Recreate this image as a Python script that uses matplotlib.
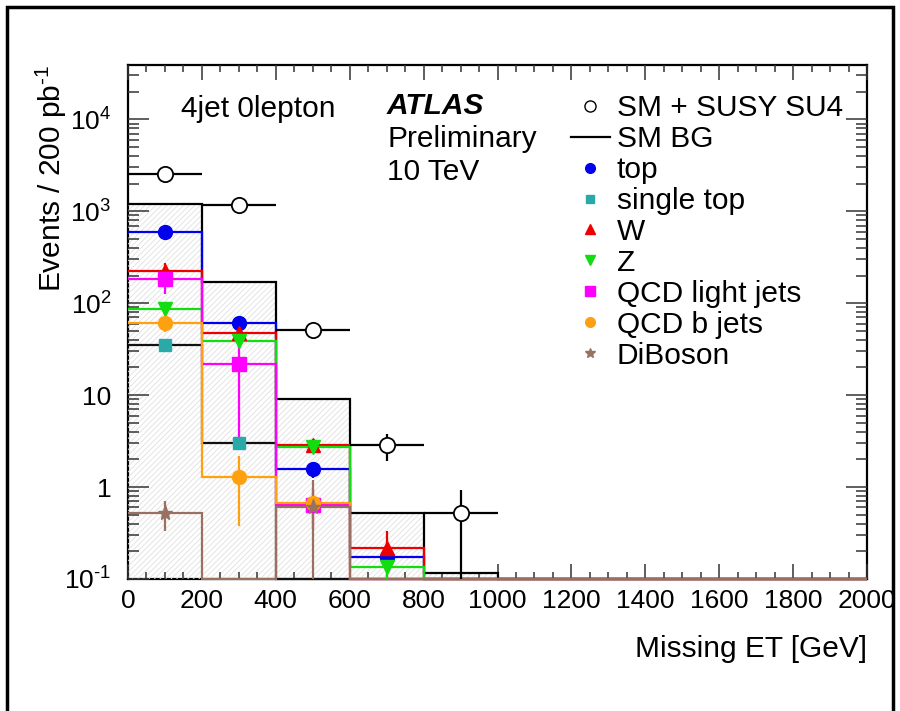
import matplotlib
matplotlib.use("Agg")
import matplotlib.pyplot as plt
import numpy as np
from matplotlib.lines import Line2D
from matplotlib.patches import Rectangle
from matplotlib.ticker import FixedLocator, LogLocator, MultipleLocator, NullFormatter

plt.rcParams["font.family"] = ["Liberation Sans", "DejaVu Sans"]
plt.rcParams["mathtext.fontset"] = "custom"
plt.rcParams["mathtext.rm"] = "Liberation Sans"
plt.rcParams["mathtext.it"] = "Liberation Sans:italic"
plt.rcParams["hatch.linewidth"] = 0.6

# Missing ET binning [GeV]
bin_edges = np.arange(0, 2001, 200)
bin_centers = 0.5 * (bin_edges[:-1] + bin_edges[1:])

# Events / 200 pb^-1 per bin
sm_bg = [1190, 169, 9.05, 0.52, 0.116, 0, 0, 0, 0, 0]
su4 = [2520, 1160, 50.9, 2.86, 0.52, 0, 0, 0, 0, 0]
su4_err = [150, 90, 6, 0.95, 0.42, 0, 0, 0, 0, 0]

top = [591, 60.6, 1.57, 0.175, 0, 0, 0, 0, 0, 0]
top_err = [25, 8, 0.3, 0.05, 0, 0, 0, 0, 0, 0]
single_top = [34.9, 3.0, 0, 0, 0, 0, 0, 0, 0, 0]
single_top_err = [5, 0.5, 0, 0, 0, 0, 0, 0, 0, 0]
w_jets = [225, 47.2, 2.86, 0.215, 0, 0, 0, 0, 0, 0]
w_jets_err = [50, 6, 0.5, 0.12, 0, 0, 0, 0, 0, 0]
z_jets = [86, 38.6, 2.7, 0.135, 0, 0, 0, 0, 0, 0]
z_jets_err = [10, 5, 0.3, 0.05, 0, 0, 0, 0, 0, 0]
qcd_light = [182, 21.7, 0.64, 0, 0, 0, 0, 0, 0, 0]
qcd_light_err = [55, 18.5, 0.3, 0, 0, 0, 0, 0, 0, 0]
qcd_b = [60.6, 1.28, 0.67, 0, 0, 0, 0, 0, 0, 0]
qcd_b_err = [12, 0.9, 0.3, 0, 0, 0, 0, 0, 0, 0]
diboson = [0.52, 0, 0.6, 0, 0, 0, 0, 0, 0, 0]
diboson_err = [0.19, 0, 0.59, 0, 0, 0, 0, 0, 0, 0]

y_min, y_max = 0.1, 3.9e4
y_ticks = [0.1, 1, 10, 100, 1e3, 1e4]
y_tick_labels = [r"$10^{\text{-}1}$", "1", "10", r"$10^{2}$", r"$10^{3}$", r"$10^{4}$"]

# (values, errors, label, colour, line colour, marker, marker size)
components = [
    (top, top_err, "top", "#0000ee", "#0000ee", "o", 10),
    (single_top, single_top_err, "single top", "#2aa9a9", "#111111", "s", 9),
    (w_jets, w_jets_err, "W", "#ee0000", "#ee0000", "^", 10.5),
    (z_jets, z_jets_err, "Z", "#11dd11", "#11dd11", "v", 10.5),
    (qcd_light, qcd_light_err, "QCD light jets", "#ff00ff", "#ff00ff", "s", 10),
    (qcd_b, qcd_b_err, "QCD b jets", "#ffa010", "#ffa010", "o", 10),
    (diboson, diboson_err, "DiBoson", "#9a7060", "#9a7060", "*", 11),
]

fs_text = 21.5
fs_tick = 19

fig = plt.figure(figsize=(9.0, 7.11), dpi=100)
ax = fig.add_axes([128 / 900, 1 - 579 / 711, 739 / 900, 514 / 711])
ax.set_yscale("log")

# SM background: hatched area plus black outline
bg = np.maximum(np.array(sm_bg, dtype=float), y_min)
ax.stairs(bg, bin_edges, baseline=y_min, fill=True, facecolor="none",
          edgecolor="#e0e0e0", hatch="//////", linewidth=0, zorder=1)
ax.stairs(bg, bin_edges, baseline=None, color="black", lw=1.6, zorder=2,
          clip_on=False)

for vals, errs, label, color, lcolor, marker, ms in components:
    vals = np.array(vals, dtype=float)
    errs = np.array(errs, dtype=float)
    ax.stairs(np.maximum(vals, y_min), bin_edges, baseline=None, color=lcolor,
              lw=1.6, zorder=3, clip_on=False)
    mask = vals > 0
    ax.errorbar(bin_centers[mask], vals[mask], yerr=errs[mask], fmt=marker,
                color=color, ms=ms, mec=color, elinewidth=1.6, capsize=0,
                zorder=4)

su4 = np.array(su4, dtype=float)
su4_err = np.array(su4_err, dtype=float)
mask = su4 > 0
ax.errorbar(bin_centers[mask], su4[mask], xerr=100, yerr=su4_err[mask],
            fmt="o", ms=11, mfc="white", mec="black", mew=1.3, color="black",
            elinewidth=1.6, capsize=0, zorder=5)

ax.set_xlim(0, 2000)
ax.set_ylim(y_min, y_max)

ax.xaxis.set_major_locator(MultipleLocator(200))
ax.xaxis.set_minor_locator(MultipleLocator(50))
ax.yaxis.set_major_locator(FixedLocator(y_ticks))
ax.yaxis.set_minor_locator(LogLocator(base=10, subs=np.arange(2, 10)))
ax.yaxis.set_minor_formatter(NullFormatter())
ax.set_yticklabels(y_tick_labels)
ax.tick_params(axis="both", which="both", direction="in", top=True, right=True,
               labelsize=fs_tick, width=1.1, color="#333333")
ax.tick_params(axis="x", which="major", length=11, pad=7)
ax.tick_params(axis="x", which="minor", length=5)
ax.tick_params(axis="y", which="major", length=15, pad=12)
ax.tick_params(axis="y", which="minor", length=8)
for sp in ax.spines.values():
    sp.set_linewidth(1.6)
    sp.set_zorder(0.5)

ax.set_xlabel("Missing ET [GeV]", fontsize=fs_text, loc="right", labelpad=16)
ax.set_ylabel(r"Events / 200 pb$^{\text{-}1}$", fontsize=fs_text, loc="top")
ax.yaxis.set_label_coords(-0.08, 1.0)

fig.text(181 / 900, 1 - 109 / 711, "4jet 0lepton", fontsize=fs_text, va="center")
fig.text(387 / 900, 1 - 106 / 711, "ATLAS", fontsize=fs_text, va="center",
         fontweight="bold", style="italic")
fig.text(387 / 900, 1 - 139 / 711, "Preliminary", fontsize=fs_text, va="center")
fig.text(387 / 900, 1 - 172 / 711, "10 TeV", fontsize=fs_text, va="center")

handles = [
    Line2D([], [], ls="none", marker="o", ms=8, mfc="white", mec="black", mew=1),
    Line2D([], [], color="black", lw=1.6),
]
labels = ["SM + SUSY SU4", "SM BG"]
for vals, errs, label, color, lcolor, marker, ms in components:
    handles.append(Line2D([], [], ls="none", marker=marker, ms=ms * 0.7,
                          color=color, mec=color))
    labels.append(label)
ax.legend(handles, labels, loc="upper left", bbox_to_anchor=(571 / 900, 1 - 94 / 711),
          bbox_transform=fig.transFigure, frameon=False, fontsize=fs_text,
          handlelength=1.3, handletextpad=0.24, labelspacing=0.1, borderpad=0,
          borderaxespad=0)

# outer frame of the canvas
fig.patches.append(Rectangle((7 / 900, -0.02), 886 / 900, 1 - 7 / 711 + 0.02,
                             transform=fig.transFigure, fill=False,
                             edgecolor="black", lw=2.5))

fig.savefig("out.png", dpi=100)
